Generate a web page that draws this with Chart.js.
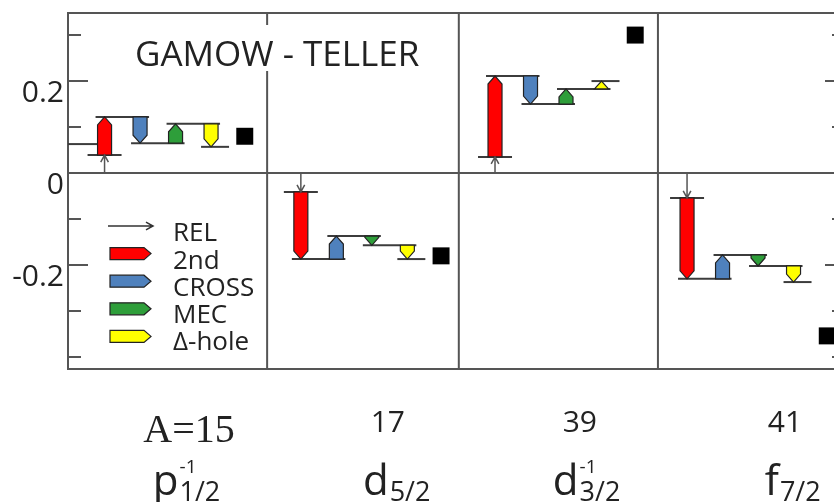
<!DOCTYPE html>
<html>
<head>
<meta charset="utf-8">
<script src="https://cdn.jsdelivr.net/npm/chart.js@4/dist/chart.umd.min.js"></script>
<style>
  html, body { margin: 0; padding: 0; background: #fff; }
</style>
</head>
<body>
<canvas id="gtChart" width="834" height="502"></canvas>
<script>
// nuclei / orbitals along the bottom
const nuclei = ['A=15', '17', '39', '41'];
const orbitLetter = ['p', 'd', 'd', 'f'];
const orbitSub = ['1/2', '5/2', '3/2', '7/2'];
const orbitSup = ['-1', '', '-1', ''];

const seriesNames = ['REL', '2nd', 'CROSS', 'MEC', '\u0394-hole'];

// running value of the correction after each contribution is added
const relLevel = [0.039, -0.041, 0.035, -0.054];
const secondLevel = [0.122, -0.187, 0.211, -0.230];
const crossLevel = [0.065, -0.137, 0.150, -0.178];
const mecLevel = [0.107, -0.157, 0.183, -0.202];
const deltaLevel = [0.057, -0.187, 0.200, -0.237];
const exptValue = [0.080, -0.180, 0.300, -0.354];
const bareLevel = [0.063, null, null, null];

const yTickValues = [0.2, 0, -0.2];
const yTickLabels = ['0.2', '0', '-0.2'];
const titleText = 'GAMOW - TELLER';

// layout (x in "slot" units, one slot per bar)
const groupStart = [0.03, 5.56, 11.03, 16.44];
const dividerAt = [5.61, 11.01, 16.62];
const numberAt = [3.38, 3.45, 3.39, 3.76];
const orbitAt = [2.36, 2.75, 2.63, 3.19];
const seriesColors = ['#555555', '#ff0000', '#4f81bd', '#2e9e3a', '#ffff00'];

const levels = [relLevel, secondLevel, crossLevel, mecLevel, deltaLevel];

const datasets = levels.map((lv, k) => ({
  type: 'bar',
  label: seriesNames[k],
  data: lv.map((v, i) => ({ x: groupStart[i] + Math.max(k, 1), y: [k ? levels[k - 1][i] : 0, v] })),
  backgroundColor: seriesColors[k],
  grouped: false,
  barThickness: 14
}));
datasets.push({
  type: 'scatter',
  label: 'exp',
  data: exptValue.map((v, i) => ({ x: groupStart[i] + 4.95, y: v })),
  pointStyle: 'rect',
  pointRadius: 12,
  backgroundColor: '#000',
  borderWidth: 0
});

function drawPointer(ctx, cx, p0, p1, w, fill) {
  const dir = p1 < p0 ? -1 : 1;
  const tip = Math.min(8, Math.abs(p1 - p0));
  const sh = p1 - dir * tip;
  ctx.beginPath();
  ctx.moveTo(cx - w / 2, p0);
  ctx.lineTo(cx - w / 2, sh);
  ctx.lineTo(cx, p1);
  ctx.lineTo(cx + w / 2, sh);
  ctx.lineTo(cx + w / 2, p0);
  ctx.closePath();
  ctx.fillStyle = fill;
  ctx.fill();
  ctx.strokeStyle = '#222';
  ctx.lineWidth = 1.2;
  ctx.stroke();
}

function drawArrow(ctx, x0, y0, x1, y1, color) {
  const ang = Math.atan2(y1 - y0, x1 - x0);
  ctx.strokeStyle = color;
  ctx.lineWidth = 1.5;
  ctx.beginPath();
  ctx.moveTo(x0, y0);
  ctx.lineTo(x1, y1);
  ctx.moveTo(x1 - 8 * Math.cos(ang - 0.5), y1 - 8 * Math.sin(ang - 0.5));
  ctx.lineTo(x1, y1);
  ctx.lineTo(x1 - 8 * Math.cos(ang + 0.5), y1 - 8 * Math.sin(ang + 0.5));
  ctx.stroke();
}

const gtPlugin = {
  id: 'gtFigure',
  beforeDatasetsDraw(chart) {
    const { ctx, chartArea: a, scales: { x, y } } = chart;
    ctx.save();
    ctx.strokeStyle = '#555';
    ctx.lineWidth = 2;
    ctx.beginPath();
    ctx.moveTo(a.right + 2, a.top); ctx.lineTo(a.left, a.top);
    ctx.lineTo(a.left, a.bottom); ctx.lineTo(a.right + 2, a.bottom);
    const y0 = y.getPixelForValue(0);
    ctx.moveTo(a.left, y0); ctx.lineTo(a.right, y0);
    dividerAt.forEach(d => {
      const px = x.getPixelForValue(d);
      ctx.moveTo(px, a.top); ctx.lineTo(px, a.bottom);
    });
    ctx.stroke();

    // inward ticks, long ones where there is a label
    y.ticks.forEach(t => {
      if (Math.abs(t.value * 10 - Math.round(t.value * 10)) > 1e-6) return;
      const py = y.getPixelForValue(t.value);
      const major = t.label !== '';
      ctx.beginPath();
      ctx.moveTo(a.left, py); ctx.lineTo(a.left + (major ? 20 : 13), py);
      ctx.moveTo(a.right - (major ? 9 : 2), py); ctx.lineTo(a.right, py);
      ctx.stroke();
    });

    // title on a white patch
    ctx.font = '35px "Open Sans"';
    const tw = ctx.measureText(titleText).width;
    ctx.fillStyle = '#fff';
    ctx.fillRect(a.left + 65, a.top + 12, tw + 4, 46);
    ctx.fillStyle = '#222';
    ctx.textBaseline = 'alphabetic';
    ctx.fillText(titleText, a.left + 67, a.top + 53);

    // step lines joining one contribution to the next
    ctx.strokeStyle = '#3c3c3c';
    ctx.lineWidth = 2;
    const barMeta = [1, 2, 3, 4].map(k => chart.getDatasetMeta(k).data);
    const seg = (v, x1, x2) => {
      const py = y.getPixelForValue(v);
      ctx.beginPath(); ctx.moveTo(x1, py); ctx.lineTo(x2, py); ctx.stroke();
    };
    nuclei.forEach((_, i) => {
      const hw = barMeta[0][i].width / 2;
      const xs = barMeta.map(m => m[i].x);
      seg(relLevel[i], xs[0] - 17, xs[0] + 17);
      for (let k = 1; k <= 3; k++) seg(levels[k][i], xs[k - 1] - hw - 2, xs[k] + hw + 2);
      seg(deltaLevel[i], xs[3] - hw - 3, xs[3] + hw + 11);
      if (bareLevel[i] !== null) seg(bareLevel[i], a.left, xs[0] - hw);
    });
    ctx.restore();
  },
  beforeDatasetDraw(chart, args) {
    const ds = chart.data.datasets[args.index];
    if (ds.type !== 'bar') return;
    const { ctx, scales: { y } } = chart;
    ctx.save();
    args.meta.data.forEach((el, i) => {
      const [from, to] = ds.data[i].y;
      const p0 = y.getPixelForValue(from);
      const p1 = y.getPixelForValue(to);
      if (args.index === 0) drawArrow(ctx, el.x, p0, el.x, p1, ds.backgroundColor);
      else drawPointer(ctx, el.x, p0, p1, el.width, ds.backgroundColor);
    });
    ctx.restore();
    return false;
  },
  afterDraw(chart) {
    const { ctx, chartArea: a, scales: { x } } = chart;
    ctx.save();
    // legend
    const lx = a.left + 42, lw = 41, tx = a.left + 105;
    ctx.textBaseline = 'middle';
    ctx.textAlign = 'left';
    chart.data.datasets.slice(0, 5).forEach((ds, k) => {
      const sy = a.top + 213 + k * 27.6;
      const ty = a.top + 221 + k * 27.2;
      if (k === 0) {
        drawArrow(ctx, lx - 2, sy, lx + lw + 2, sy, '#333');
      } else {
        ctx.beginPath();
        ctx.moveTo(lx, sy - 6); ctx.lineTo(lx + lw - 7, sy - 6);
        ctx.lineTo(lx + lw, sy); ctx.lineTo(lx + lw - 7, sy + 6);
        ctx.lineTo(lx, sy + 6); ctx.closePath();
        ctx.fillStyle = ds.backgroundColor;
        ctx.fill();
        ctx.strokeStyle = '#222';
        ctx.lineWidth = 1.2;
        ctx.stroke();
      }
      ctx.fillStyle = '#222';
      ctx.font = '26px "Open Sans"';
      ctx.fillText(ds.label, tx, ty);
    });

    // nucleus and orbital labels under each panel
    ctx.textBaseline = 'alphabetic';
    ctx.fillStyle = '#222';
    nuclei.forEach((label, i) => {
      const cx = x.getPixelForValue(groupStart[i] + numberAt[i]);
      ctx.textAlign = 'center';
      if (i === 0) {
        ctx.font = '40px "Liberation Serif"';
        ctx.fillText(label, cx, 442);
      } else {
        ctx.font = '30px "Open Sans"';
        ctx.fillText(label, cx, 432);
      }
      const ox = x.getPixelForValue(groupStart[i] + orbitAt[i]);
      ctx.textAlign = 'left';
      ctx.font = '42px "Open Sans"';
      ctx.fillText(orbitLetter[i], ox, 495);
      const sx = ox + ctx.measureText(orbitLetter[i]).width + 1;
      ctx.font = '27px "Open Sans"';
      ctx.fillText(orbitSub[i], sx, 501);
      if (orbitSup[i]) {
        ctx.font = '19px "Open Sans"';
        ctx.fillText(orbitSup[i], sx, 473);
      }
    });
    ctx.restore();
  }
};

Chart.defaults.font.family = '"Open Sans", sans-serif';

new Chart(document.getElementById('gtChart'), {
  type: 'bar',
  data: { datasets: datasets },
  options: {
    responsive: false,
    animation: false,
    layout: { autoPadding: false, padding: { top: 13, bottom: 133, left: 0, right: 0 } },
    plugins: { legend: { display: false }, tooltip: { enabled: false } },
    scales: {
      x: {
        type: 'linear', min: 0, max: 21.58, offset: false, display: false,
        afterFit: s => { s.paddingLeft = 0; s.paddingRight = 0; }
      },
      y: {
        type: 'linear',
        min: -0.426,
        max: 0.348,
        afterFit: s => { s.width = 68; s.paddingTop = 0; s.paddingBottom = 0; },
        grid: { display: false, drawTicks: false },
        border: { display: false },
        ticks: {
          stepSize: 0.1,
          includeBounds: false,
          autoSkip: false,
          padding: 4,
          labelOffset: 12,
          color: '#222',
          font: { size: 30 },
          callback: v => {
            const i = yTickValues.findIndex(t => Math.abs(t - v) < 1e-6);
            return i < 0 ? '' : yTickLabels[i];
          }
        }
      }
    }
  },
  plugins: [gtPlugin]
});
</script>
</body>
</html>
